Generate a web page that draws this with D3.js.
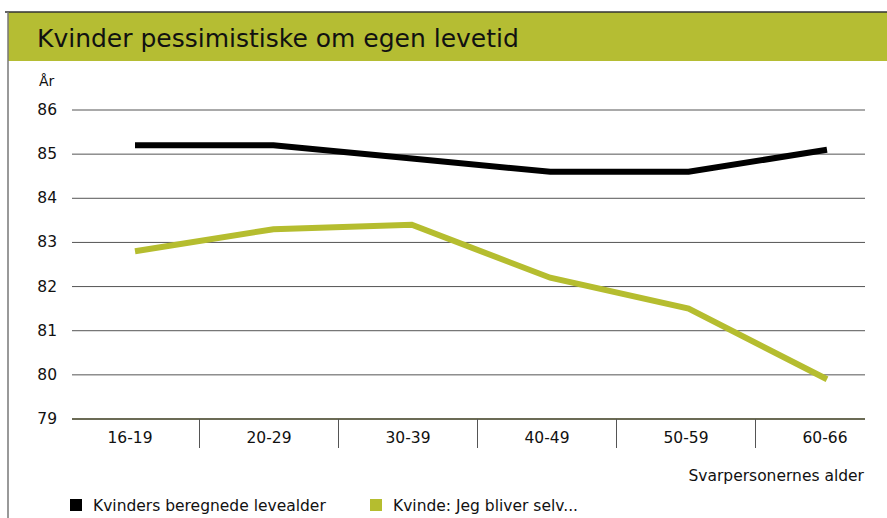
<!DOCTYPE html>
<html>
<head>
<meta charset="utf-8">
<script src="https://cdn.jsdelivr.net/npm/d3@7"></script>
<style>
  body { margin: 0; background: #fff; }
  svg { display: block; }
  .lbl { font-family: "DejaVu Sans", sans-serif; font-size: 15.5px; fill: #111; }
</style>
</head>
<body>
<div id="chart"></div>
<script>
const width = 887;
const height = 518;

const title = "Kvinder pessimistiske om egen levetid";
const categories = ["16-19", "20-29", "30-39", "40-49", "50-59", "60-66"];
const yTicks = [79, 80, 81, 82, 83, 84, 85, 86];
const seriesNames = ["Kvinders beregnede levealder", "Kvinde: Jeg bliver selv..."];
const beregnet = [85.2, 85.2, 84.9, 84.6, 84.6, 85.1];
const selvVurderet = [82.8, 83.3, 83.4, 82.2, 81.5, 79.9];
const colors = ["#000000", "#b5bd2f"];

const svg = d3.select("#chart")
  .append("svg")
  .attr("width", width)
  .attr("height", height);

// frame + title band
svg.append("rect")
  .attr("x", 8).attr("y", 12)
  .attr("width", width - 8).attr("height", 49)
  .attr("fill", "#b5bd33");
svg.append("line")
  .attr("x1", 5).attr("x2", width).attr("y1", 12).attr("y2", 12)
  .attr("stroke", "#333").attr("stroke-width", 1.5);
svg.append("line")
  .attr("x1", 8).attr("x2", 8).attr("y1", 12).attr("y2", height)
  .attr("stroke", "#777").attr("stroke-width", 1.5);

svg.append("text")
  .attr("x", 37).attr("y", 47)
  .style("font-family", "'DejaVu Sans', sans-serif")
  .style("font-size", "25px")
  .attr("fill", "#111")
  .text(title);

const y = d3.scaleLinear().domain([79, 86]).range([419, 110]);
const xBand = d3.scaleBand().domain(categories).range([60.5, 894.5]);
const xPt = d3.scalePoint().domain(categories).range([135, 827]);

const gridL = 72, gridR = 865;

// gridlines
svg.append("g")
  .selectAll("line")
  .data(yTicks.filter(d => d !== 79))
  .join("line")
  .attr("x1", gridL).attr("x2", gridR)
  .attr("y1", d => y(d)).attr("y2", d => y(d))
  .attr("stroke", "#555").attr("stroke-width", 1);

// y labels
svg.append("g")
  .selectAll("text")
  .data(yTicks)
  .join("text")
  .attr("class", "lbl")
  .attr("x", 57)
  .attr("y", d => y(d) + 5)
  .attr("text-anchor", "end")
  .text(d => d);

svg.append("text")
  .attr("class", "lbl")
  .attr("x", 39).attr("y", 86)
  .style("font-size", "14px")
  .text("År");

// x axis baseline
svg.append("line")
  .attr("x1", gridL).attr("x2", gridR)
  .attr("y1", y(79)).attr("y2", y(79))
  .attr("stroke", "#6b6b55").attr("stroke-width", 2);

// band separators
svg.append("g")
  .selectAll("line")
  .data(categories.slice(1))
  .join("line")
  .attr("x1", d => xBand(d)).attr("x2", d => xBand(d))
  .attr("y1", y(79)).attr("y2", 448)
  .attr("stroke", "#555").attr("stroke-width", 1);

svg.append("g")
  .selectAll("text")
  .data(categories)
  .join("text")
  .attr("class", "lbl")
  .attr("x", d => xBand(d) + xBand.bandwidth() / 2)
  .attr("y", 443)
  .attr("text-anchor", "middle")
  .text(d => d);

svg.append("text")
  .attr("class", "lbl")
  .attr("x", 864).attr("y", 481)
  .attr("text-anchor", "end")
  .text("Svarpersonernes alder");

// lines
const line = d3.line()
  .x((d, i) => xPt(categories[i]))
  .y(d => y(d));

[beregnet, selvVurderet].forEach((vals, k) => {
  svg.append("path")
    .datum(vals)
    .attr("d", line)
    .attr("fill", "none")
    .attr("stroke", colors[k])
    .attr("stroke-width", 6)
    .attr("stroke-linejoin", "miter");
});

// legend
const legendX = [70, 370];
const leg = svg.append("g")
  .selectAll("g")
  .data(seriesNames)
  .join("g")
  .attr("transform", (d, i) => `translate(${legendX[i]},499)`);
leg.append("rect")
  .attr("width", 12).attr("height", 12)
  .attr("fill", (d, i) => colors[i]);
leg.append("text")
  .attr("class", "lbl")
  .attr("x", 23).attr("y", 12)
  .text(d => d);
</script>
</body>
</html>
